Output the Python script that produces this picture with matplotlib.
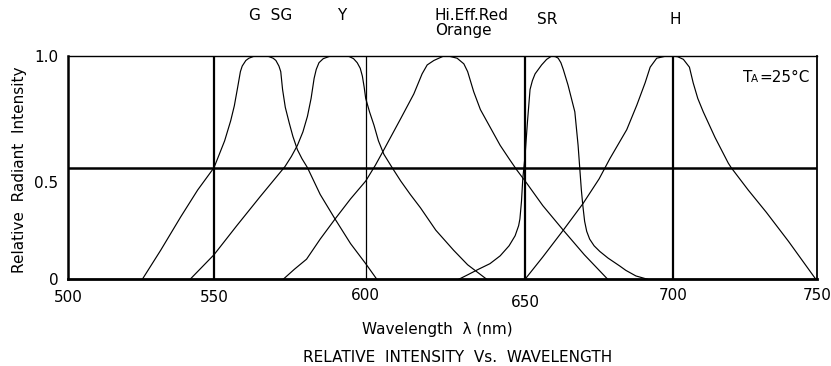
import numpy as np
import matplotlib
matplotlib.use('Agg')
import matplotlib.pyplot as plt
from matplotlib.transforms import ScaledTranslation

# ------------------------------------------------------------
# Spectra (wavelength nm, relative intensity)
# ------------------------------------------------------------
g_wl = [525.4, 531.7, 538.6, 544.4, 550.0, 553.5, 555.5, 556.7, 557.8, 558.7,
        559.3, 560.5, 561.5, 563.0, 565.5, 568.0, 569.5, 570.4, 571.4, 572.0,
        572.6, 573.5, 574.8, 576.0, 577.5, 579.0, 580.8, 585.0, 589.9, 595.0,
        600.0, 603.5]
g_int = [0.0, 0.13, 0.28, 0.40, 0.50, 0.62, 0.71, 0.777, 0.86, 0.93,
         0.955, 0.98, 0.99, 0.998, 1.0, 0.998, 0.99, 0.98, 0.955, 0.93,
         0.85, 0.77, 0.70, 0.64, 0.58, 0.54, 0.50, 0.38, 0.27, 0.16,
         0.07, 0.0]

y_wl = [541.8, 550.0, 557.5, 565.2, 573.4, 575.5, 577.5, 579.3, 580.8, 582.0,
        583.0, 583.7, 584.6, 586.0, 588.0, 591.2, 594.5, 596.0, 597.2, 598.2,
        598.9, 599.5, 600.0, 601.2, 602.6, 604.0, 605.7, 608.3, 611.0, 614.0,
        617.2, 622.0, 627.6, 632.0, 638.0]
y_int = [0.0, 0.11, 0.24, 0.37, 0.505, 0.55, 0.60, 0.66, 0.73, 0.81,
         0.90, 0.94, 0.97, 0.988, 0.998, 1.0, 0.998, 0.988, 0.97, 0.945,
         0.91, 0.86, 0.81, 0.75, 0.69, 0.62, 0.56, 0.50, 0.44, 0.38,
         0.32, 0.22, 0.13, 0.065, 0.0]

o_wl = [572.8, 576.5, 580.5, 585.0, 589.9, 595.0, 600.0, 603.0, 605.7, 611.0,
        615.1, 617.7, 619.3, 621.4, 624.5, 626.5, 628.7, 630.8, 632.0, 633.9,
        636.0, 639.1, 642.2, 645.0, 647.4, 650.6, 656.0, 662.9, 670.0, 677.9]
o_int = [0.0, 0.045, 0.09, 0.18, 0.27, 0.36, 0.44, 0.51, 0.58, 0.72,
         0.83, 0.92, 0.96, 0.98, 1.0, 0.998, 0.99, 0.965, 0.93, 0.84,
         0.76, 0.68, 0.60, 0.54, 0.49, 0.43, 0.33, 0.22, 0.11, 0.0]

sr_wl = [629.2, 632.0, 635.4, 639.0, 642.2, 645.0, 646.9, 648.0, 648.4, 648.9,
         649.3, 650.0, 650.8, 651.7, 652.5, 653.4, 655.6, 657.3, 659.0, 660.3,
         661.2, 662.1, 662.9, 664.5, 666.8, 667.9, 669.0, 669.5, 670.1, 670.8,
         671.8, 673.3, 675.2, 678.0, 681.9, 684.0, 687.4, 690.3, 691.4]
sr_int = [0.0, 0.02, 0.045, 0.07, 0.105, 0.15, 0.195, 0.24, 0.27, 0.35,
          0.45, 0.55, 0.70, 0.85, 0.89, 0.92, 0.96, 0.985, 1.0, 0.997,
          0.99, 0.97, 0.94, 0.87, 0.75, 0.60, 0.40, 0.33, 0.26, 0.215,
          0.18, 0.15, 0.125, 0.095, 0.06, 0.04, 0.015, 0.004, 0.0]

h_wl = [650.0, 656.0, 662.9, 669.6, 675.0, 678.6, 684.3, 687.7, 690.5, 692.2,
        694.4, 697.0, 699.2, 701.5, 703.5, 705.6, 706.9, 708.5, 710.4, 714.5,
        719.1, 720.1, 726.0, 732.3, 740.0, 749.5]
h_int = [0.0, 0.10, 0.22, 0.34, 0.45, 0.54, 0.67, 0.78, 0.88, 0.95,
         0.99, 0.998, 1.0, 0.997, 0.985, 0.95, 0.88, 0.81, 0.75, 0.635,
         0.52, 0.50, 0.40, 0.30, 0.17, 0.0]

x_ticks = [500, 550, 600, 650, 700, 750]
x_ticklabels = ['500', '550', '600', '650', '700', '750']
y_ticks = [0, 0.5, 1.0]
y_ticklabels = ['0', '0.5', '1.0']

# the scanned axis is not perfectly linear; calibrate it per gridline
AXIS_NM = np.array([500., 550., 600., 650., 700., 750.])
AXIS_PX = np.array([68.3, 214.0, 365.7, 525.0, 673.3, 817.3])


def _pw(x, src, dst):
    x = np.asarray(x, float)
    out = np.interp(x, src, dst)
    lo = dst[0] + (x - src[0]) * (dst[1] - dst[0]) / (src[1] - src[0])
    hi = dst[-1] + (x - src[-1]) * (dst[-1] - dst[-2]) / (src[-1] - src[-2])
    out = np.where(x < src[0], lo, out)
    out = np.where(x > src[-1], hi, out)
    return out


def fwd(x):
    return _pw(x, AXIS_NM, AXIS_PX)


def inv(x):
    return _pw(x, AXIS_PX, AXIS_NM)


W, H = 831, 366
FS = 11
fig = plt.figure(figsize=(W / 100, H / 100), dpi=100)
ax = fig.add_axes([68.3 / W, (H - 279.3) / H, (817.3 - 68.3) / W, (279.3 - 56) / H])
ax.set_xscale('function', functions=(fwd, inv))
ax.set_xlim(500, 750)
ax.set_ylim(0, 1.0)

# grid lines
for wl in [550, 650, 700]:
    ax.axvline(wl, color='black', lw=1.6, zorder=1)
ax.axvline(600, color='black', lw=0.9, zorder=1)
ax.axhline(0.5, color='black', lw=1.8, zorder=1)

for wl, inten in [(g_wl, g_int), (y_wl, y_int), (o_wl, o_int), (sr_wl, sr_int), (h_wl, h_int)]:
    ax.plot(wl, inten, color='black', lw=0.85, zorder=2,
            solid_joinstyle='round', antialiased=True)

for side, lw in [('left', 1.8), ('bottom', 2.0), ('top', 1.0), ('right', 1.3)]:
    ax.spines[side].set_linewidth(lw)

ax.set_xticks(x_ticks)
ax.set_xticklabels(x_ticklabels, fontsize=FS)
ax.set_yticks(y_ticks)
ax.set_yticklabels(y_ticklabels, fontsize=FS)
ax.tick_params(axis='both', length=0)
ax.tick_params(axis='x', pad=8)
ax.tick_params(axis='y', pad=7)
ax.xaxis.set_minor_locator(matplotlib.ticker.NullLocator())

# the scan has some labels a little off their line
for lab in ax.get_xticklabels():
    if lab.get_text() == '650':
        lab.set_transform(lab.get_transform() + ScaledTranslation(0, -3 / 72, fig.dpi_scale_trans))
    if lab.get_text() in ('700', '750', '600'):
        lab.set_transform(lab.get_transform() + ScaledTranslation(0, 1.5 / 72, fig.dpi_scale_trans))
for lab in ax.get_yticklabels():
    if lab.get_text() == '0.5':
        lab.set_transform(lab.get_transform() + ScaledTranslation(0, -10 / 72, fig.dpi_scale_trans))

ax.set_xlabel('Wavelength  λ (nm)', fontsize=FS, labelpad=9)
ax.xaxis.set_label_coords((437.5 - 68.3) / (817.3 - 68.3), -0.19)
ax.set_ylabel('Relative  Radiant  Intensity', fontsize=FS)
ax.yaxis.set_label_coords((27 - 68.3) / (817.3 - 68.3), (279.3 - 170) / (279.3 - 56))

fig.text(458 / W, 1 - 358 / H, 'RELATIVE  INTENSITY  Vs.  WAVELENGTH',
         fontsize=FS, ha='center', va='center')

# peak labels above the chart
fig.text(271 / W, 1 - 16 / H, 'G  SG', fontsize=FS, ha='center', va='center')
fig.text(342 / W, 1 - 16 / H, 'Y', fontsize=FS, ha='center', va='center')
fig.text(435 / W, 1 - 16 / H, 'Hi.Eff.Red', fontsize=FS, ha='left', va='center')
fig.text(435 / W, 1 - 31 / H, 'Orange', fontsize=FS, ha='left', va='center')
fig.text(547 / W, 1 - 20 / H, 'SR', fontsize=FS, ha='center', va='center')
fig.text(675 / W, 1 - 20 / H, 'H', fontsize=FS, ha='center', va='center')

fig.text(743 / W, 1 - 78 / H, 'T', fontsize=FS, ha='left', va='center')
fig.text(751 / W, 1 - 79.5 / H, 'A', fontsize=7.5, ha='left', va='center')
fig.text(759 / W, 1 - 78 / H, '=25°C', fontsize=FS, ha='left', va='center')

fig.savefig('out.png', dpi=100)
